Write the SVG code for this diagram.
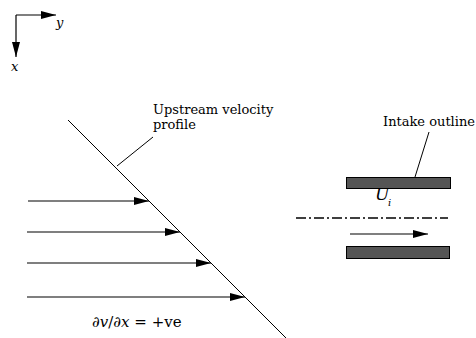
<svg xmlns="http://www.w3.org/2000/svg" width="476" height="338" viewBox="0 0 476 338">
<defs>
<marker id="ah" markerWidth="15" markerHeight="8" refX="15" refY="4" orient="auto" markerUnits="userSpaceOnUse">
<path d="M0,0 L15,4 L0,8 Z" fill="#000"/>
</marker>
<style>
.tx{font-family:'DejaVu Serif',serif;fill:#000}
.t{font-size:13px}
.it{font-style:italic}
.ln{stroke:#000;stroke-width:1;fill:none}
.ar{stroke:#000;stroke-width:1.2;fill:none;marker-end:url(#ah)}
.bar{fill:#555;stroke:#000;stroke-width:1}
</style>
</defs>
<rect width="476" height="338" fill="#fff"/>
<g id="axes">
<path class="ar" d="M16,15 L56,15"/>
<path class="ar" d="M16,15 L16,57"/>
<text class="tx t it" x="56" y="27">y</text>
<text class="tx t it" x="11" y="71">x</text>
</g>
<g id="profile">
<path class="ln" d="M68,120 L287,339"/>
<text class="tx t" x="153" y="114">Upstream velocity</text>
<text class="tx t" x="153" y="129">profile</text>
</g>
<g id="intake">
<rect class="bar" x="346.5" y="177.5" width="104" height="11"/>
<rect class="bar" x="346.5" y="246.5" width="103" height="12"/>
<path d="M296,218 L448,218" stroke="#000" stroke-width="1.5" stroke-dasharray="10,3,2,3" fill="none"/>
<text class="tx t" x="383" y="126">Intake outline</text>
<text class="tx it" x="375" y="200" font-size="17">U</text>
<text class="tx it" x="388" y="206" font-size="10">i</text>
</g>
<g id="connectors">
<path class="ar" d="M28,201 L149,201"/>
<path class="ar" d="M27,232 L180,232"/>
<path class="ar" d="M27,263 L211,263"/>
<path class="ar" d="M27,297 L245,297"/>
<path class="ln" d="M153,137 L117,166"/>
<path class="ln" d="M429,132 L415,177"/>
<path class="ar" d="M350,234 L428,234"/>
</g>
<g id="label">
<text class="tx" x="92" y="327" font-size="15">∂<tspan class="it">v</tspan>/∂<tspan class="it">x</tspan> = +ve</text>
</g>
</svg>
